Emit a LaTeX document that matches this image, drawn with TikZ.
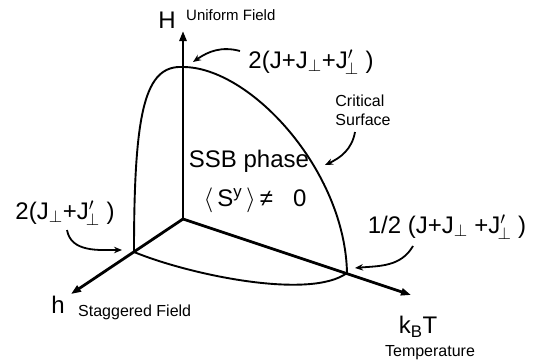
\documentclass[tikz,border=0pt]{standalone}
\usepackage{fontspec}
\setmainfont{Liberation Sans}
\usetikzlibrary{arrows.meta}
\tikzset{
  axis/.style={-{Triangle[length=10pt,width=7pt]}, line width=2.8pt},
  crit/.style={line width=1.9pt},
  callout/.style={-{Stealth[length=8pt,width=6.5pt]}, line width=1.8pt},
  big/.style={font=\fontsize{24}{27}\selectfont, inner sep=0pt},
  small/.style={font=\fontsize{16}{19}\selectfont, inner sep=0pt, align=left},
}
\newcommand{\Jpl}{J$_{\perp}$}
\newcommand{\Jpr}{J$'_{\!\perp}$}

\begin{document}
\begin{tikzpicture}[x=1pt,y=1pt]
  \useasboundingbox (0,0) rectangle (540,360);
  % axes
  \coordinate (O) at (183,141);
  \coordinate (Hend) at (183,329);
  \coordinate (hend) at (71,66);
  \coordinate (Tend) at (411,65);
  \draw[axis] (O) -- (Hend);
  \draw[axis] (O) -- (hend);
  \draw[axis] (O) -- (Tend);
  \node[big] (Hlab) at (167,340) {H};
  \node[small, font=\fontsize{15}{18}\selectfont, anchor=west] (uni) at (186,345) {Uniform Field};
  \node[big] (hlab) at (58,55) {h};
  \node[small, anchor=west] (stag) at (78,48) {Staggered Field};
  \node[big] (Tlab) at (418,33) {k\textsubscript{B}T};
  \node[small] (temp) at (430,7) {Temperature};

  % critical surface
  \coordinate (Hc) at (183,293);
  \coordinate (hc) at (134,108);
  \coordinate (Tc) at (347,87);
  \draw[crit] (Hc) .. controls (145,295) and (134,250) .. (hc);
  \draw[crit] (Hc) .. controls (250,293) and (345,190) .. (Tc);
  \draw[crit] (hc) .. controls (190,85) and (310,60) .. (Tc);

  % phase texts
  \node[big] (ssb) at (249,199) {SSB phase};
  \node[big] (order) at (255,160) {$\langle$\,S\textsuperscript{y}\,$\rangle$\,≠\ \ \ 0};
  \node[small] (crs) at (363,250) {Critical\\Surface};

  % values and callouts
  \node[big] (topval) at (311,298) {2(J+\Jpl+\Jpr\ )};
  \node[big] (leftval) at (65,147) {2(\Jpl+\Jpr\ )};
  \node[big] (rightval) at (447,133) {1/2 (J+\Jpl\ +\Jpr\ )};
  \coordinate (topS) at (240,309);
  \coordinate (topE) at (193,298);
  \coordinate (crsS) at (355,228);
  \coordinate (crsE) at (325,195);
  \coordinate (leftS) at (67,130);
  \coordinate (leftE) at (122,110);
  \coordinate (rightS) at (413,114);
  \coordinate (rightE) at (355,92);
  \draw[callout] (topS) to[out=165,in=35] (topE);
  \draw[callout] (crsS) to[out=-100,in=25] (crsE);
  \draw[callout] (leftS) to[out=-80,in=180] (leftE);
  \draw[callout] (rightS) to[out=-120,in=5] (rightE);
\end{tikzpicture}
\end{document}
